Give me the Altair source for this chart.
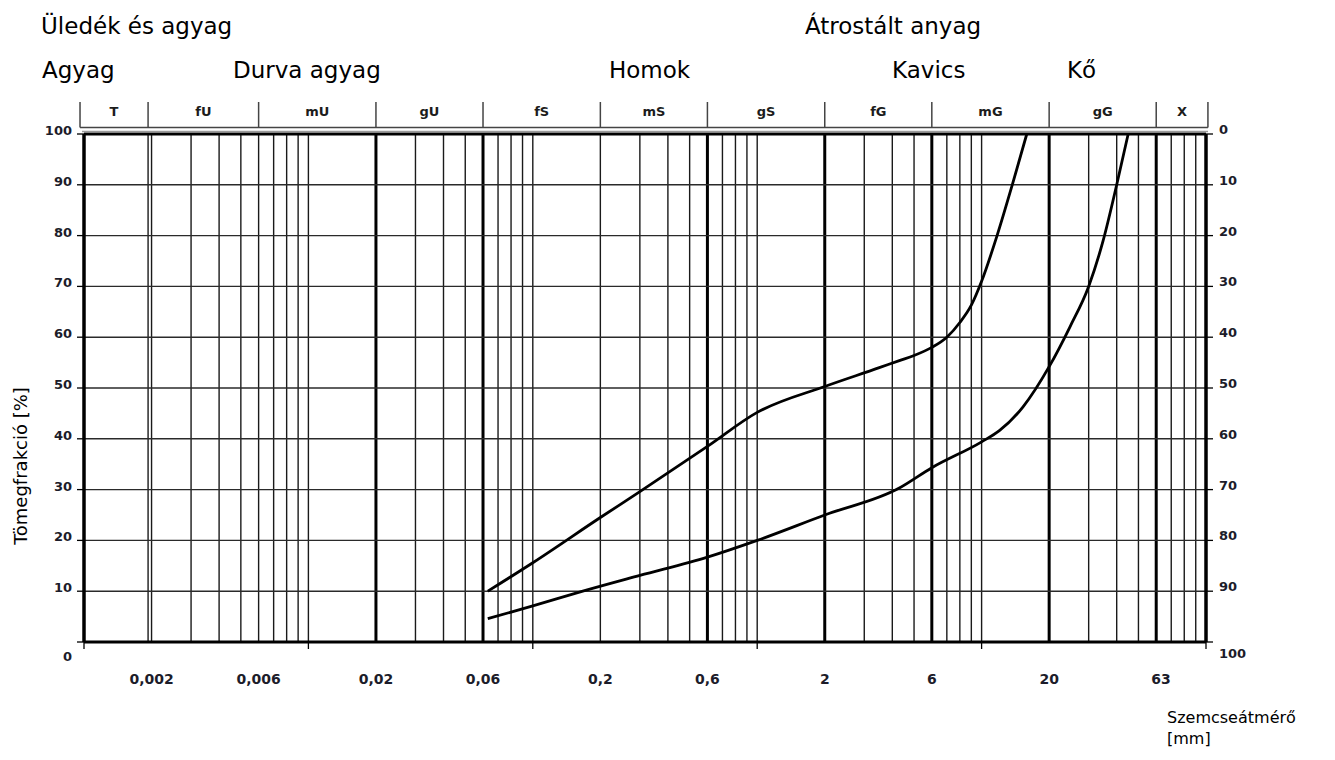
import altair as alt
import pandas as pd

FONT = "DejaVu Sans"

# ---- data ----
fine_d = [0.063, 0.1, 0.2, 0.3, 0.6, 1.0, 2.0, 3.5, 4.3, 5.0, 6.0, 7.0, 8.0, 9.0, 10.0, 11.7, 13.7, 15.9]
fine_p = [10, 15.6, 24.5, 29.6, 38.5, 45.2, 50.3, 54.0, 55.4, 56.4, 58.0, 60.0, 62.9, 66.3, 71.0, 79.9, 90, 100]
coarse_d = [0.063, 0.1, 0.17, 0.3, 0.6, 1.0, 2.0, 4.3, 6.0, 10.0, 12.0, 15.3, 20.0, 24.8, 30.0, 34.8, 40.0, 45.0]
coarse_p = [4.6, 7.1, 10.1, 13.1, 16.7, 20.0, 25.0, 30.3, 34.3, 39.4, 41.6, 46.3, 54.2, 62.1, 70.0, 79.0, 90, 100]

x_label_vals = [0.002, 0.006, 0.02, 0.06, 0.2, 0.6, 2, 6, 20, 63]
x_label_txt = ["0,002", "0,006", "0,02", "0,06", "0,2", "0,6", "2", "6", "20", "63"]
decades = [0.001, 0.01, 0.1, 1, 10, 100]
thick_lines = [0.02, 0.06, 0.6, 2, 6, 20, 60]
extra_lines = [0.00193]
header_bounds = [0.00096, 0.00193, 0.006, 0.02, 0.06, 0.2, 0.6, 2, 6, 20, 60, 102]
header_names = ["T", "fU", "mU", "gU", "fS", "mS", "gS", "fG", "mG", "gG", "X"]
y_levels = [0, 10, 20, 30, 40, 50, 60, 70, 80, 90, 100]

W, H = 1122, 508

xs = alt.Scale(type="log", domain=[0.001, 100], nice=False)
ys = alt.Scale(domain=[0, 100], nice=False, zero=False)

thin_lines = [n * 10.0 ** k for k in range(-3, 2) for n in range(1, 10)]
thin_lines = [v for v in thin_lines if v > 0.001 and all(abs(v - t) / t > 1e-6 for t in thick_lines)]
thin_lines += extra_lines

curves = pd.DataFrame(
    {"d": fine_d + coarse_d,
     "p": fine_p + coarse_p,
     "s": ["a"] * len(fine_d) + ["b"] * len(coarse_d)}
)

X = lambda f="v": alt.X(f + ":Q", scale=xs, axis=None)
Y = lambda f="v": alt.Y(f + ":Q", scale=ys, axis=None)

vthin = alt.Chart(pd.DataFrame({"v": thin_lines})).mark_rule(color="#1a1a1a", strokeWidth=1.4).encode(x=X())
vthick = alt.Chart(pd.DataFrame({"v": thick_lines})).mark_rule(color="#000", strokeWidth=3).encode(x=X())
hgrid = alt.Chart(pd.DataFrame({"v": y_levels[1:-1]})).mark_rule(color="#2a2a2a", strokeWidth=1.4).encode(y=Y())
border_v = alt.Chart(pd.DataFrame({"v": [0.001, 100]})).mark_rule(color="#000", strokeWidth=3.5).encode(x=X())
border_h = alt.Chart(pd.DataFrame({"v": [0, 100]})).mark_rule(color="#000", strokeWidth=3).encode(y=Y())
top_gray = alt.Chart(pd.DataFrame({"v": [0]})).mark_rule(color="#9a9a9a", strokeWidth=1.3).encode(
    x=alt.value(-2), x2=alt.value(W + 2), y=alt.value(-2.5))

# header strip
hdr = pd.DataFrame({"v": header_bounds})
hdr_sep = alt.Chart(hdr).mark_rule(color="#444", strokeWidth=1.5).encode(
    x=X(), y=alt.value(-32), y2=alt.value(-6.5))
hdr_base = alt.Chart(pd.DataFrame({"a": [header_bounds[0]], "b": [header_bounds[-1]]})).mark_rule(
    color="#444", strokeWidth=1.5).encode(x=alt.X("a:Q", scale=xs, axis=None), x2="b:Q", y=alt.value(-6.5))
hdr_lab_df = pd.DataFrame({
    "lo": header_bounds[:-1], "hi": header_bounds[1:], "t": header_names})
hdr_lab = alt.Chart(hdr_lab_df).transform_calculate(
    c="sqrt(datum.lo * datum.hi)").mark_text(
    font=FONT, fontSize=13, fontWeight="bold", color="#1c1c1c", baseline="alphabetic").encode(
    x=alt.X("c:Q", scale=xs, axis=None), y=alt.value(-18), text="t:N")

# curves
lines = alt.Chart(curves).mark_line(color="#000", strokeWidth=2.8, interpolate="monotone").encode(
    x=alt.X("d:Q", scale=xs, axis=None), y=alt.Y("p:Q", scale=ys, axis=None), detail="s:N")

# ticks
lt = pd.DataFrame({"v": y_levels})
ticks_l = alt.Chart(lt).mark_rule(color="#000", strokeWidth=1.3).encode(y=Y(), x=alt.value(-7), x2=alt.value(0))
ticks_r = alt.Chart(lt).mark_rule(color="#000", strokeWidth=1.3).encode(y=Y(), x=alt.value(W), x2=alt.value(W + 7))
ticks_b = alt.Chart(pd.DataFrame({"v": decades})).mark_rule(color="#000", strokeWidth=1.3).encode(
    x=X(), y=alt.value(H), y2=alt.value(H + 7))

lab_style = dict(font=FONT, fontSize=13, fontWeight="bold", color="#1c1c2a")
left_df = pd.DataFrame({"v": y_levels, "t": [str(v) for v in y_levels]})
left_main = alt.Chart(left_df[left_df.v > 0]).mark_text(align="right", baseline="middle", dy=-3, **lab_style).encode(
    y=Y(), x=alt.value(-12), text="t:N")
left_zero = alt.Chart(left_df[left_df.v == 0]).mark_text(align="right", baseline="middle", dy=15, **lab_style).encode(
    y=Y(), x=alt.value(-12), text="t:N")
right_df = pd.DataFrame({"v": y_levels, "t": [str(100 - v) for v in y_levels]})
right_main = alt.Chart(right_df[right_df.v > 0]).mark_text(align="left", baseline="middle", dy=-4, **lab_style).encode(
    y=Y(), x=alt.value(W + 13), text="t:N")
right_hund = alt.Chart(right_df[right_df.v == 0]).mark_text(align="left", baseline="middle", dy=12, **lab_style).encode(
    y=Y(), x=alt.value(W + 13), text="t:N")
bottom_lab = alt.Chart(pd.DataFrame({"v": x_label_vals, "t": x_label_txt})).mark_text(
    align="center", baseline="middle", font=FONT, fontSize=14, fontWeight="bold", color="#1c1c2a").encode(
    x=X(), y=alt.value(H + 38), text="t:N")


def note(text, x, y, size, angle=0, baseline="alphabetic", align="left"):
    return alt.Chart(alt.Data(values=[{}])).mark_text(
        text=text, font=FONT, fontSize=size, color="#000", align=align, baseline=baseline, angle=angle
    ).encode(x=alt.value(x), y=alt.value(y))


notes = [
    note("Üledék és agyag", -43, -100.5, 23),
    note("Átrostált anyag", 721, -100.5, 23),
    note("Agyag", -42, -56, 23),
    note("Durva agyag", 149, -56, 23),
    note("Homok", 525, -56, 23),
    note("Kavics", 808, -56, 23),
    note("Kő", 983, -56, 23),
    note("Tömegfrakció [%]", -62, 332, 18, angle=270, baseline="middle", align="center"),
    note("Szemcseátmérő", 1083, 589, 16),
    note("[mm]", 1083, 609.5, 16),
]

chart = alt.layer(
    vthin, vthick, hgrid, border_v, border_h, top_gray,
    hdr_sep, hdr_base, hdr_lab, lines,
    ticks_l, ticks_r, ticks_b,
    left_main, left_zero, right_main, right_hund, bottom_lab,
    *notes,
).properties(
    width=W, height=H,
    autosize=alt.AutoSizeParams(type="none"),
    padding={"left": 76, "top": 126, "right": 121, "bottom": 106},
    background="white",
).configure_view(stroke=None)

chart.save("out.html", embed_options={"renderer": "svg", "actions": False})
